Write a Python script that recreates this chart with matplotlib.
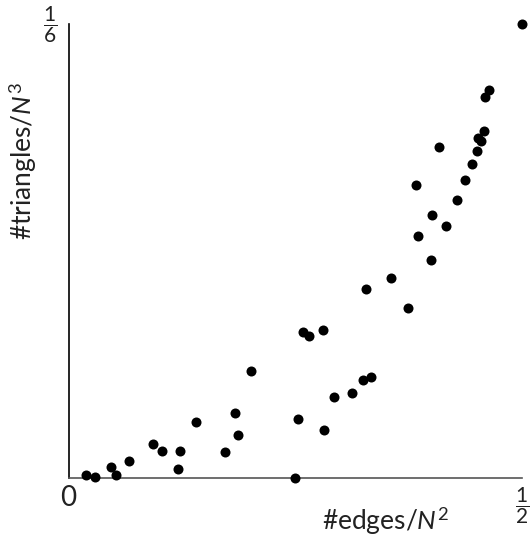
import matplotlib
matplotlib.use("Agg")
import matplotlib.pyplot as plt

plt.rcParams['font.family'] = ['Lato', 'DejaVu Sans']
plt.rcParams['mathtext.fontset'] = 'custom'
plt.rcParams['mathtext.rm'] = 'Lato'
plt.rcParams['mathtext.it'] = 'Lato:italic'
plt.rcParams['mathtext.bf'] = 'Lato:bold'

edges = [0.5, 0.4639, 0.4595, 0.4581, 0.4512, 0.4548, 0.4082, 0.4501, 0.4445,
         0.4375, 0.3831, 0.4283, 0.4011, 0.4165, 0.3857, 0.4000, 0.3552, 0.3277,
         0.3746, 0.2585, 0.2652, 0.2809, 0.2927, 0.3122, 0.3247, 0.3335, 0.2530,
         0.2817, 0.2497, 0.2012, 0.1836, 0.1872, 0.1729, 0.1402, 0.1233, 0.1204,
         0.0932, 0.1028, 0.0667, 0.0465, 0.0520, 0.0190, 0.0292]
triangles = [1/6, 0.14244, 0.13987, 0.12728, 0.12493, 0.12372, 0.12151, 0.11993,
             0.11516, 0.10929, 0.10756, 0.10195, 0.09655, 0.09251, 0.08873, 0.07992,
             0.07342, 0.06949, 0.06252, 0.05349, 0.05224, 0.05422, 0.02974, 0.03120,
             0.03609, 0.03697, 0.02166, 0.01762, 0.0, 0.03928, 0.02397, 0.01568,
             0.00943, 0.02045, 0.00980, 0.00319, 0.01259, 0.00991, 0.00635, 0.00415,
             0.0011, 0.0010, 0.0004]

W, H = 530, 538
fig = plt.figure(figsize=(W / 100, H / 100), dpi=100)
ax = fig.add_axes([68.5 / W, 1 - 478 / H, (522 - 68.5) / W, (478 - 24) / H])
ax.scatter(edges, triangles, s=52, color='black', clip_on=False, zorder=3, linewidths=0)
ax.set_xlim(0, 0.5)
ax.set_ylim(0, 1 / 6)
ax.set_xticks([])
ax.set_yticks([])
for s in ['top', 'right']:
    ax.spines[s].set_visible(False)
ax.spines['left'].set_color('black')
ax.spines['left'].set_linewidth(1.2)
ax.spines['bottom'].set_color('#555555')
ax.spines['bottom'].set_linewidth(1.2)


def fp(px, py):
    return px / W, 1 - py / H


tc = '#222222'
fig.text(*fp(68.5, 498), '0', fontsize=20, ha='center', va='center', color=tc)
fig.text(*fp(522.5, 506), r'$\dfrac{1}{2}$', fontsize=15, ha='center', va='center', color=tc)
fig.text(*fp(50.5, 25), r'$\dfrac{1}{6}$', fontsize=15, ha='center', va='center', color=tc)
fig.text(*fp(386, 521), r'#edges/$\mathit{N}^{2}$', fontsize=19, ha='center', va='center', color=tc)
fig.text(*fp(23, 161), r'#triangles/$\mathit{N}^{3}$', fontsize=19, ha='center', va='center',
         rotation=90, color=tc)

fig.savefig('out.png', dpi=100)
